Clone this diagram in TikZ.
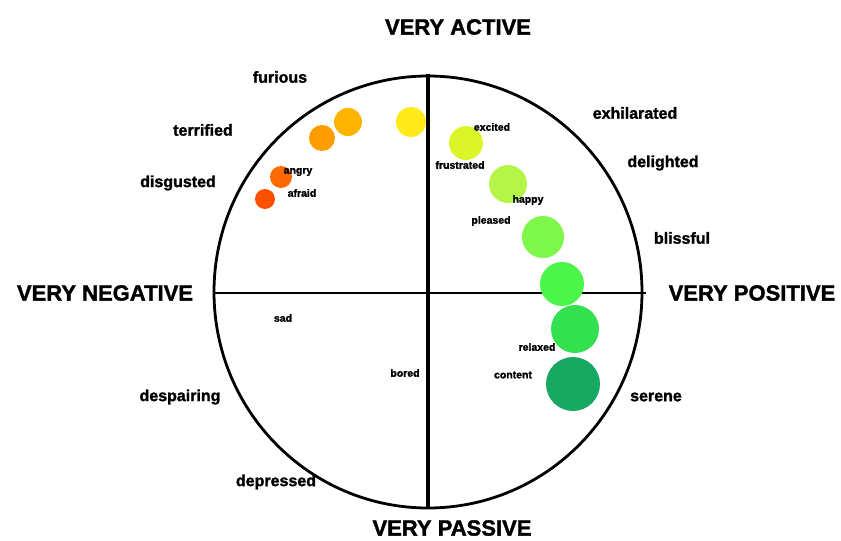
\documentclass[tikz,border=0pt]{standalone}
\usepackage{fontspec}
\setmainfont{Liberation Sans}
\newfontfamily\heavyfont[FakeBold=1.6]{Liberation Sans}
\definecolor{cY}{HTML}{FFEB1A}
\definecolor{cOY}{HTML}{FFB400}
\definecolor{cO}{HTML}{FF9C00}
\definecolor{cDO}{HTML}{FF6A00}
\definecolor{cRO}{HTML}{FF4F00}
\definecolor{cYG}{HTML}{DCF52A}
\definecolor{cLG}{HTML}{B5F54A}
\definecolor{cG1}{HTML}{7DF74A}
\definecolor{cG2}{HTML}{4CF54A}
\definecolor{cG3}{HTML}{33E050}
\definecolor{cG4}{HTML}{17A862}
\begin{document}
\begin{tikzpicture}[x=1pt,y=-1pt,
  ball/.style={circle,inner sep=0pt,draw=none},
  big/.style={font=\fontsize{22}{22}\selectfont\heavyfont\bfseries,inner sep=0pt},
  mid/.style={font=\fontsize{16}{17}\selectfont\heavyfont\bfseries,inner sep=0pt},
  tiny/.style={font=\fontsize{10.5}{11}\selectfont\heavyfont\bfseries,inner sep=0pt},
  rim/.style={line width=2.8pt},
  vaxis/.style={line width=3.6pt},
  haxis/.style={line width=2.2pt}]
\useasboundingbox (0,0) rectangle (841,541);
% outer circle
\draw[rim] (428,292) ellipse [x radius=214, y radius=216];
% axes
\coordinate (top) at (428,74);
\coordinate (bot) at (428,509);
\coordinate (lft) at (213,293);
\coordinate (rgt) at (646,293);
\draw[vaxis] (top) -- (bot);
\draw[haxis] (lft) -- (rgt);
% balls
\node[ball,fill=cY,minimum size=30pt] (b1) at (411,122) {};
\node[ball,fill=cOY,minimum size=28pt] (b2) at (348,122) {};
\node[ball,fill=cO,minimum size=26pt] (b3) at (322,138) {};
\node[ball,fill=cDO,minimum size=22pt] (b4) at (281,177) {};
\node[ball,fill=cRO,minimum size=20pt] (b5) at (265,199) {};
\node[ball,fill=cYG,minimum size=34pt] (b6) at (466,143) {};
\node[ball,fill=cLG,minimum size=38pt] (b7) at (508,184) {};
\node[ball,fill=cG1,minimum size=42pt] (b8) at (543,237) {};
\node[ball,fill=cG2,minimum size=44pt] (b9) at (562,284) {};
\node[ball,fill=cG3,minimum size=48pt] (b10) at (575,329) {};
\node[ball,fill=cG4,minimum size=54pt] (b11) at (573,384) {};
% axis labels
\node[big] (active) at (458,27) {VERY ACTIVE};
\node[big] (passive) at (452,528) {VERY PASSIVE};
\node[big] (negative) at (105,293) {VERY NEGATIVE};
\node[big] (positive) at (752,293) {VERY POSITIVE};
% rim labels
\node[mid] (furious) at (280,77) {furious};
\node[mid] (terrified) at (203,130) {terrified};
\node[mid] (disgusted) at (178,183) {disgusted};
\node[mid] (exhilarated) at (635,113) {exhilarated};
\node[mid] (delighted) at (663,163) {delighted};
\node[mid] (blissful) at (682,238) {blissful};
\node[mid] (serene) at (656,397) {serene};
\node[mid] (despairing) at (180,397) {despairing};
\node[mid] (depressed) at (276,482) {depressed};
% inner labels
\node[tiny] (angry) at (298,172) {angry};
\node[tiny] (afraid) at (302,193) {afraid};
\node[tiny] (excited) at (492,127) {excited};
\node[tiny] (frustrated) at (460,165) {frustrated};
\node[tiny] (happy) at (528,200) {happy};
\node[tiny] (pleased) at (491,221) {pleased};
\node[tiny] (sad) at (283,318) {sad};
\node[tiny] (bored) at (405,373) {bored};
\node[tiny] (relaxed) at (537,347) {relaxed};
\node[tiny] (content) at (513,375) {content};
\end{tikzpicture}
\end{document}
